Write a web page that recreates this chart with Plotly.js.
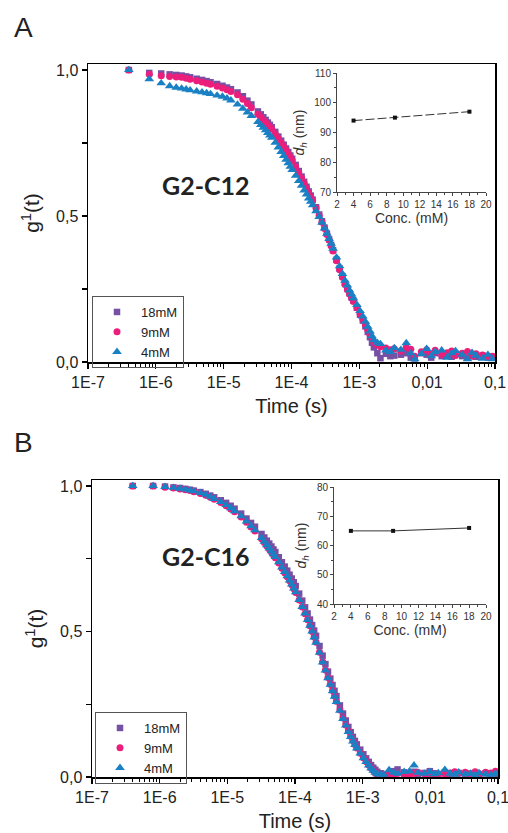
<!DOCTYPE html>
<html><head><meta charset="utf-8">
<script src="https://cdn.plot.ly/plotly-3.0.1.min.js"></script>
<style>html,body{margin:0;padding:0;background:#fff}#chart{width:508px;height:833px}</style>
</head><body><div id="chart"></div>
<script>
// correlator lag times (s), shared by all series
const tau = [4e-7,8e-7,1.2e-6,1.6e-6,2.0e-6,2.4e-6,2.8e-6,3.2e-6,4.0e-6,4.8e-6,
  5.6e-6,6.4e-6,8.0e-6,9.6e-6,1.12e-5,1.28e-5,1.6e-5,1.92e-5,2.24e-5,2.56e-5,
  3.2e-5,3.52e-5,3.84e-5,4.16e-5,4.48e-5,4.8e-5,5.12e-5,5.76e-5,6.4e-5,7.04e-5,
  7.68e-5,8.32e-5,8.96e-5,9.6e-5,1.024e-4,1.152e-4,1.28e-4,1.408e-4,1.536e-4,1.664e-4,
  1.792e-4,1.92e-4,2.048e-4,2.304e-4,2.56e-4,2.816e-4,3.072e-4,3.328e-4,3.584e-4,3.84e-4,
  4.096e-4,4.608e-4,5.12e-4,5.632e-4,6.144e-4,6.656e-4,7.168e-4,7.68e-4,8.192e-4,9.216e-4,
  1.024e-3,1.126e-3,1.229e-3,1.331e-3,1.434e-3,1.536e-3,1.638e-3,1.843e-3,2.048e-3,
  2.458e-3,2.867e-3,3.277e-3,4.096e-3,4.915e-3,5.734e-3,6.554e-3,8.192e-3,9.83e-3,1.147e-2,
  1.311e-2,1.638e-2,1.966e-2,2.294e-2,2.621e-2,3.277e-2,3.932e-2,4.588e-2,5.243e-2,6.554e-2,
  7.864e-2,9.175e-2];

const seriesNames = ['18mM', '9mM', '4mM'];

// Panel A: G2-C12
const gA_18 = [1.000,0.990,0.988,0.985,0.983,0.981,0.978,0.975,0.970,0.966,
  0.962,0.958,0.952,0.946,0.940,0.934,0.923,0.910,0.895,0.882,
  0.858,0.848,0.838,0.829,0.820,0.812,0.804,0.788,0.772,0.758,
  0.744,0.731,0.719,0.707,0.696,0.675,0.654,0.635,0.617,0.600,
  0.584,0.570,0.556,0.530,0.505,0.482,0.460,0.440,0.420,0.401,
  0.383,0.350,0.320,0.294,0.270,0.252,0.236,0.222,0.210,0.186,
  0.162,0.142,0.122,0.103,0.085,0.066,0.050,0.030,0.013,
  0.028,0.020,0.022,0.025,0.030,0.015,0.012,0.030,0.025,0.015,
  0.030,0.020,0.025,0.018,0.028,0.020,0.015,0.025,0.018,0.022,
  0.015,0.018];
const gA_9 = [1.000,0.985,0.980,0.978,0.976,0.975,0.972,0.968,0.963,0.959,
  0.955,0.951,0.944,0.938,0.932,0.926,0.915,0.900,0.885,0.871,
  0.848,0.838,0.829,0.820,0.812,0.805,0.797,0.781,0.765,0.751,
  0.737,0.725,0.713,0.701,0.690,0.669,0.648,0.630,0.612,0.596,
  0.580,0.566,0.552,0.527,0.502,0.479,0.457,0.437,0.418,0.398,
  0.380,0.347,0.316,0.290,0.266,0.248,0.233,0.219,0.207,0.186,
  0.165,0.146,0.128,0.110,0.095,0.080,0.068,0.058,0.052,
  0.048,0.042,0.045,0.038,0.050,0.044,0.020,0.035,0.042,0.028,
  0.040,0.025,0.032,0.038,0.022,0.030,0.036,0.020,0.028,0.024,
  0.018,0.020];
const gA_4 = [1.000,0.969,0.955,0.945,0.940,0.937,0.934,0.931,0.927,0.924,
  0.921,0.918,0.913,0.909,0.903,0.896,0.882,0.868,0.855,0.843,
  0.822,0.812,0.803,0.794,0.785,0.776,0.768,0.751,0.735,0.720,
  0.706,0.693,0.681,0.669,0.658,0.638,0.620,0.604,0.588,0.574,
  0.560,0.549,0.537,0.517,0.497,0.477,0.458,0.440,0.422,0.405,
  0.388,0.358,0.328,0.302,0.279,0.262,0.245,0.232,0.218,0.196,
  0.175,0.156,0.138,0.121,0.105,0.089,0.075,0.066,0.062,
  0.040,0.035,0.048,0.042,0.065,0.030,0.010,0.028,0.045,0.020,
  0.035,0.040,0.015,0.030,0.038,0.025,0.010,0.032,0.022,0.012,
  0.025,0.010];

// Panel B: G2-C16
const gB_18 = [1.000,1.000,0.998,0.995,0.993,0.990,0.987,0.984,0.979,0.973,
  0.967,0.961,0.951,0.942,0.932,0.922,0.905,0.888,0.873,0.860,
  0.835,0.823,0.812,0.802,0.792,0.782,0.773,0.755,0.738,0.723,
  0.709,0.695,0.682,0.669,0.656,0.630,0.606,0.583,0.562,0.541,
  0.522,0.503,0.485,0.450,0.417,0.388,0.362,0.338,0.316,0.296,
  0.278,0.246,0.218,0.194,0.172,0.154,0.138,0.124,0.112,0.094,
  0.078,0.064,0.052,0.041,0.032,0.025,0.018,0.013,0.010,
  0.012,0.020,0.026,0.016,0.012,0.018,0.010,0.014,0.020,0.012,
  0.010,0.016,0.008,0.012,0.014,0.008,0.012,0.010,0.006,0.012,
  0.010,0.008];
const gB_9 = [1.000,1.000,0.996,0.993,0.990,0.987,0.984,0.980,0.974,0.968,
  0.961,0.954,0.943,0.932,0.921,0.911,0.893,0.875,0.859,0.845,
  0.819,0.806,0.794,0.783,0.773,0.763,0.753,0.735,0.717,0.702,
  0.688,0.674,0.661,0.647,0.634,0.608,0.584,0.561,0.540,0.520,
  0.500,0.481,0.463,0.429,0.396,0.368,0.342,0.319,0.297,0.278,
  0.260,0.230,0.203,0.179,0.158,0.140,0.125,0.112,0.100,0.082,
  0.066,0.053,0.041,0.031,0.022,0.014,0.008,0.006,0.005,
  0.010,0.004,0.012,0.008,0.006,0.012,0.016,0.010,0.005,0.012,
  0.008,0.010,0.014,0.018,0.012,0.016,0.010,0.018,0.012,0.016,
  0.014,0.020];
const gB_4 = [1.000,1.000,0.997,0.994,0.991,0.988,0.985,0.982,0.976,0.970,
  0.963,0.956,0.945,0.935,0.924,0.914,0.896,0.878,0.862,0.848,
  0.822,0.809,0.797,0.786,0.776,0.766,0.756,0.738,0.720,0.705,
  0.690,0.676,0.662,0.648,0.635,0.609,0.585,0.562,0.540,0.520,
  0.500,0.480,0.462,0.427,0.394,0.366,0.340,0.317,0.295,0.276,
  0.258,0.228,0.200,0.177,0.155,0.138,0.122,0.110,0.098,0.081,
  0.065,0.052,0.040,0.030,0.022,0.015,0.010,0.008,0.008,
  0.024,0.015,0.012,0.018,0.020,0.040,0.015,0.012,0.018,0.010,
  0.014,0.025,0.012,0.008,0.016,0.010,0.012,0.006,0.014,0.010,
  0.008,0.012];

// Insets: hydrodynamic diameter vs concentration
const conc = [4, 9, 18];
const dhA = [94, 95, 97];
const dhB = [65, 65, 66];

// Tick labels
const xTickVals = [1e-7, 1e-6, 1e-5, 1e-4, 1e-3, 1e-2, 1e-1];
const xTickText = ['1E-7', '1E-6', '1E-5', '1E-4', '1E-3', '0,01', '0,1'];

// ---------- styling / layout ----------
const W = 508, H = 833;
const px = x => x / W;
const py = y => 1 - y / H;
const FONT = 'Liberation Sans, Arial, sans-serif';
const colors = ['#7650a4', '#ec1e7b', '#1a80c4'];
const symbols = ['square', 'circle', 'triangle-up'];
const sizes = [6.5, 7, 8.5];

const minorX = [];
for (let d = -7; d < -1; d++) for (let k = 2; k <= 9; k++) minorX.push(k * Math.pow(10, d));

function mainTraces(vals, xa, ya, legend) {
  return vals.map((v, i) => ({
    x: tau, y: v, type: 'scatter', mode: 'markers', name: seriesNames[i],
    xaxis: xa, yaxis: ya, legend: legend, cliponaxis: false,
    marker: {symbol: symbols[i], size: sizes[i], color: colors[i], line: {width: 0}}
  }));
}

const traces = [
  ...mainTraces([gA_18, gA_9, gA_4], 'x', 'y', 'legend'),
  ...mainTraces([gB_18, gB_9, gB_4], 'x3', 'y3', 'legend2'),
  {x: conc, y: dhA, type: 'scatter', mode: 'lines+markers', xaxis: 'x2', yaxis: 'y2', showlegend: false,
   line: {color: '#333', width: 1, dash: '9px,3px'}, marker: {symbol: 'square', size: 4, color: '#111'}},
  {x: conc, y: dhB, type: 'scatter', mode: 'lines+markers', xaxis: 'x4', yaxis: 'y4', showlegend: false,
   line: {color: '#333', width: 1}, marker: {symbol: 'square', size: 4, color: '#111'}}
];

function mainX(d0, d1, anchor) {
  return {
    domain: [px(d0), px(d1)], anchor: anchor, type: 'log', range: [-7, -1],
    tickmode: 'array', tickvals: xTickVals, ticktext: xTickText, ticklabeloverflow: 'allow',
    ticks: 'outside', ticklen: 5, tickwidth: 1.2, tickcolor: '#000',
    minor: {tickmode: 'array', tickvals: minorX, ticks: 'outside', ticklen: 3, tickwidth: 1, tickcolor: '#000', showgrid: false},
    showline: true, mirror: true, linecolor: '#000', linewidth: 1.5,
    showgrid: false, zeroline: false,
    tickfont: {size: 16, color: '#222', family: FONT},
    title: {text: 'Time (s)', font: {size: 20, color: '#222', family: FONT}, standoff: 9}
  };
}
function mainY(d0, d1, anchor) {
  return {
    domain: [py(d1), py(d0)], anchor: anchor, range: [0, 1.0205],
    tickmode: 'array', tickvals: [0, 0.5, 1.0], tickformat: '.1f',
    ticks: 'outside', ticklen: 5, tickwidth: 1.2, tickcolor: '#000',
    minor: {tickmode: 'array', tickvals: [0.25, 0.75], ticks: 'outside', ticklen: 5, tickwidth: 1.2, tickcolor: '#000', showgrid: false},
    showline: true, mirror: true, linecolor: '#000', linewidth: 1.5,
    showgrid: false, zeroline: false,
    tickfont: {size: 16, color: '#222', family: FONT},
    title: {text: 'g<sup>1</sup>(t)', font: {size: 21, color: '#222', family: FONT}, standoff: 10}
  };
}
function insetX(d0, d1, anchor) {
  return {
    domain: [px(d0), px(d1)], anchor: anchor, range: [2, 20], tick0: 2, dtick: 2,
    ticks: 'outside', ticklen: 3, tickwidth: 1, tickcolor: '#444',
    minor: {dtick: 1, ticks: 'outside', ticklen: 2, tickcolor: '#444', showgrid: false},
    showline: true, linecolor: '#444', linewidth: 1, showgrid: false, zeroline: false,
    tickfont: {size: 10, color: '#333', family: FONT},
    title: {text: 'Conc. (mM)', font: {size: 14, color: '#333', family: FONT}, standoff: 4}
  };
}
function insetY(d0, d1, anchor, r) {
  return {
    domain: [py(d1), py(d0)], anchor: anchor, range: r, dtick: 10,
    ticks: 'outside', ticklen: 3, tickwidth: 1, tickcolor: '#444',
    minor: {dtick: 5, ticks: 'outside', ticklen: 2, tickcolor: '#444', showgrid: false},
    showline: true, linecolor: '#444', linewidth: 1, showgrid: false, zeroline: false,
    tickfont: {size: 10, color: '#333', family: FONT},
    title: {text: '<i>d</i><sub><i>h</i></sub> (nm)', font: {size: 14, color: '#333', family: FONT}, standoff: 6}
  };
}

const legendBase = {
  xanchor: 'left', yanchor: 'top', bgcolor: 'rgba(255,255,255,0)',
  bordercolor: '#555', borderwidth: 1, font: {size: 13, color: '#222', family: FONT},
  itemwidth: 38, tracegroupgap: 0
};

const layout = {
  width: W, height: H, margin: {l: 0, r: 0, t: 0, b: 0},
  paper_bgcolor: '#fff', plot_bgcolor: 'rgba(0,0,0,0)',
  separators: ', ', showlegend: true,
  font: {family: FONT, color: '#222'},
  xaxis: mainX(88, 495, 'y'),
  yaxis: mainY(64, 362, 'x'),
  xaxis2: insetX(337, 486, 'y2'),
  yaxis2: insetY(73, 192, 'x2', [70, 110]),
  xaxis3: mainX(92, 498, 'y3'),
  yaxis3: mainY(480, 777, 'x3'),
  xaxis4: insetX(334, 486, 'y4'),
  yaxis4: insetY(487, 604, 'x4', [40, 80]),
  legend: Object.assign({x: px(92), y: py(296)}, legendBase),
  legend2: Object.assign({x: px(95), y: py(712)}, legendBase),
  annotations: [
    {text: 'A', x: px(12), y: py(10), xref: 'paper', yref: 'paper', xanchor: 'left', yanchor: 'top', showarrow: false,
     font: {size: 28, color: '#222', family: FONT}},
    {text: 'B', x: px(12), y: py(425), xref: 'paper', yref: 'paper', xanchor: 'left', yanchor: 'top', showarrow: false,
     font: {size: 28, color: '#222', family: FONT}},
    {text: '<b>G2-C12</b>', x: px(160), y: py(168), xref: 'paper', yref: 'paper', showarrow: false,
     font: {size: 25, color: '#222', family: 'Lato, Open Sans, sans-serif'}},
    {text: '<b>G2-C16</b>', x: px(160), y: py(573), xref: 'paper', yref: 'paper', showarrow: false,
     font: {size: 25, color: '#222', family: 'Lato, Open Sans, sans-serif'}}
  ]
};

Plotly.newPlot('chart', traces, layout, {displayModeBar: false, staticPlot: true});
</script>
</body></html>
